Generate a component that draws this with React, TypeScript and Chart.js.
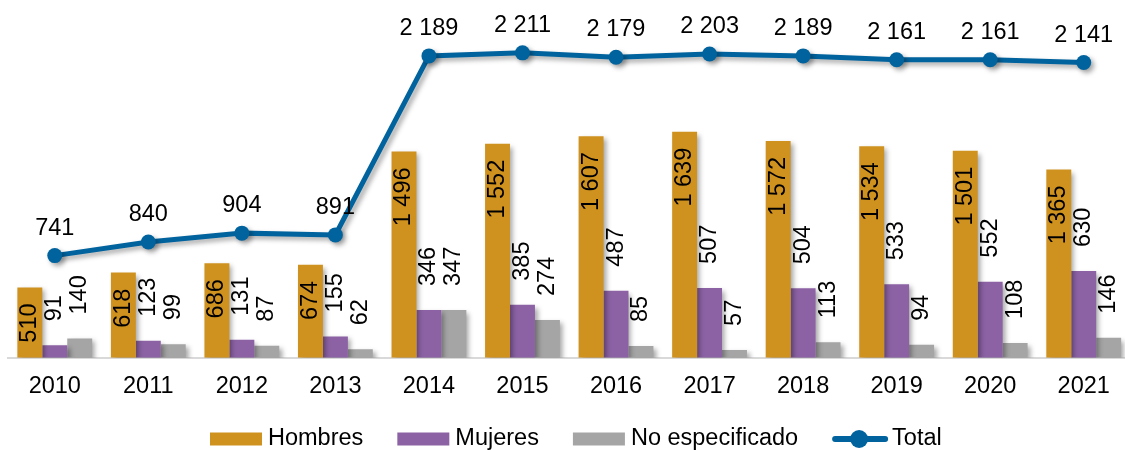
import React, { useEffect, useRef } from "react";
import { Chart, registerables } from "chart.js";

Chart.register(...registerables);

const years = ["2010", "2011", "2012", "2013", "2014", "2015", "2016", "2017", "2018", "2019", "2020", "2021"];
const hombres = [510, 618, 686, 674, 1496, 1552, 1607, 1639, 1572, 1534, 1501, 1365];
const mujeres = [91, 123, 131, 155, 346, 385, 487, 507, 504, 533, 552, 630];
const noEspecificado = [140, 99, 87, 62, 347, 274, 85, 57, 113, 94, 108, 146];
const total = [741, 840, 904, 891, 2189, 2211, 2179, 2203, 2189, 2161, 2161, 2141];

const FONT = '"Liberation Sans", Arial, sans-serif';
const FS = 23.5;
const C_H = "#D0921F";
const C_M = "#8C62A5";
const C_N = "#A5A5A5";
const C_T = "#00639E";

const fmt = (n: number) =>
  n >= 1000 ? `${Math.floor(n / 1000)} ${String(n % 1000).padStart(3, "0")}` : String(n);

const labelPlugin = {
  id: "valueLabels",
  beforeDatasetsDraw(chart: any) {
    const ctx = chart.ctx;
    ctx.save();
    ctx.shadowColor = "rgba(0,0,0,0.35)";
    ctx.shadowBlur = 5;
    ctx.shadowOffsetX = 3;
    ctx.shadowOffsetY = 3;
  },
  afterDatasetsDraw(chart: any) {
    const ctx = chart.ctx;
    ctx.restore();
    ctx.save();
    ctx.fillStyle = "#000";
    ctx.font = `${FS}px ${FONT}`;
    chart.data.datasets.forEach((ds: any, di: number) => {
      const meta = chart.getDatasetMeta(di);
      meta.data.forEach((el: any, i: number) => {
        const txt = fmt(ds.data[i] as number);
        const { x, y } = el.getProps(["x", "y"], true);
        if (ds.type === "line") {
          ctx.textAlign = "center";
          ctx.textBaseline = "alphabetic";
          ctx.fillText(txt, x, y - 21);
        } else {
          const inside = di === 0;
          ctx.save();
          ctx.translate(x, inside ? y + 16 : y - 24);
          ctx.rotate(-Math.PI / 2);
          ctx.textAlign = inside ? "right" : "left";
          ctx.textBaseline = "middle";
          ctx.fillText(txt, 0, 0);
          ctx.restore();
        }
      });
    });
    ctx.restore();
  },
};

const legendPlugin = {
  id: "customLegend",
  afterDraw(chart: any) {
    const ctx = chart.ctx;
    ctx.save();
    ctx.font = `${FS}px ${FONT}`;
    ctx.textBaseline = "middle";
    ctx.textAlign = "left";
    const cy = 439;
    let x = chart.chartArea.left + 202;
    chart.data.datasets.forEach((ds: any) => {
      if (ds.type === "line") {
        ctx.strokeStyle = ds.borderColor;
        ctx.lineWidth = 6;
        ctx.lineCap = "round";
        ctx.beginPath();
        ctx.moveTo(x + 3, cy);
        ctx.lineTo(x + 53, cy);
        ctx.stroke();
        ctx.fillStyle = ds.borderColor;
        ctx.beginPath();
        ctx.arc(x + 27, cy, 9, 0, Math.PI * 2);
        ctx.fill();
        x += 60;
      } else {
        ctx.fillStyle = ds.backgroundColor;
        ctx.fillRect(x, cy - 6.5, 52, 13);
        x += 58;
      }
      ctx.fillStyle = "#000";
      ctx.fillText(ds.label, x, cy);
      x += ctx.measureText(ds.label).width + 34;
    });
    ctx.restore();
  },
};

export default function App() {
  const ref = useRef<HTMLCanvasElement>(null);
  useEffect(() => {
    document.body.style.overflow = "hidden";
    const chart = new Chart(ref.current as HTMLCanvasElement, {
      type: "bar",
      data: {
        labels: years,
        datasets: [
          { type: "bar", label: "Hombres", data: hombres, backgroundColor: C_H, order: 1 },
          { type: "bar", label: "Mujeres", data: mujeres, backgroundColor: C_M, order: 1 },
          { type: "bar", label: "No especificado", data: noEspecificado, backgroundColor: C_N, order: 1 },
          {
            type: "line",
            label: "Total",
            data: total,
            borderColor: C_T,
            backgroundColor: C_T,
            borderWidth: 5,
            pointRadius: 7.5,
            pointBackgroundColor: C_T,
            pointBorderWidth: 0,
            tension: 0,
            order: 0,
          } as any,
        ],
      },
      options: {
        animation: false,
        responsive: true,
        maintainAspectRatio: false,
        layout: { padding: { left: 8, right: 0, top: 0, bottom: 42 } },
        datasets: { bar: { categoryPercentage: 0.8, barPercentage: 1 } } as any,
        plugins: { legend: { display: false }, tooltip: { enabled: false } },
        scales: {
          x: {
            grid: { display: false },
            border: { display: true, color: "#D9D9D9", width: 2 },
            ticks: { font: { size: FS, family: FONT }, color: "#000", padding: 7, maxRotation: 0, autoSkip: false },
          },
          y: { display: false, min: 0, max: 2540 },
        },
      },
      plugins: [labelPlugin, legendPlugin],
    });
    return () => chart.destroy();
  }, []);
  return (
    <div style={{ position: "absolute", left: 0, top: 0, width: 1138, height: 450 }}>
      <canvas ref={ref} />
    </div>
  );
}
